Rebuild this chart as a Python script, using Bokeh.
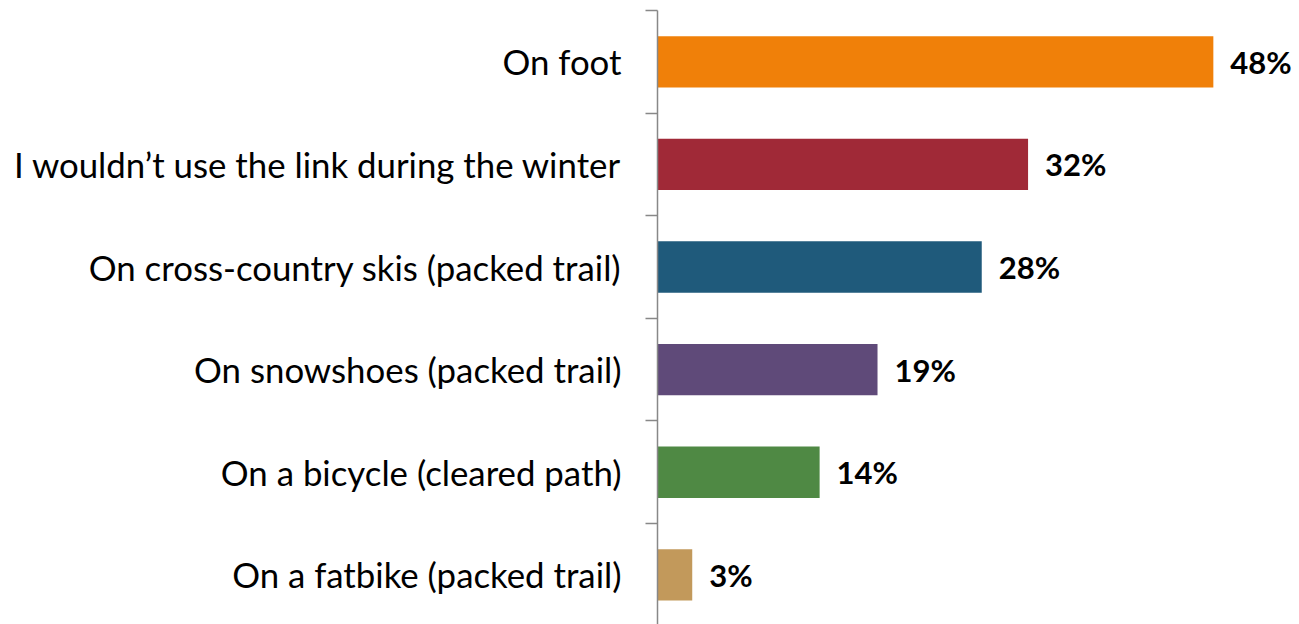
from bokeh.plotting import figure
from bokeh.models import Range1d, FixedTicker, ColumnDataSource
from bokeh.embed import file_html
from bokeh.resources import INLINE
from bokeh.core.properties import value

categories = ["On foot", "I wouldn\u2019t use the link during the winter",
              "On cross-country skis (packed trail)", "On snowshoes (packed trail)",
              "On a bicycle (cleared path)", "On a fatbike (packed trail)"]
values = [48, 32, 28, 19, 14, 3]
colors = ["#F08009", "#A02937", "#1F5A7B", "#5F4A79", "#4F8944", "#C2995B"]
labels = [f"{v}%" for v in values]

n = len(categories)
ypos = [n - 1 - i for i in range(n)]

src = ColumnDataSource(dict(y=ypos, v=values, c=colors, lab=labels))

p = figure(width=1299, height=624, output_backend="svg", toolbar_location=None,
           x_range=Range1d(0, 55.44), y_range=Range1d(-0.484, 5.5),
           min_border_left=657, min_border_right=0, min_border_top=10, min_border_bottom=0)
p.outline_line_color = None
p.grid.visible = False
p.xaxis.visible = False

p.hbar(y="y", right="v", left=0, height=0.5, fill_color="c", line_color=None, source=src)
p.text(x="v", y="y", text="lab", source=src, x_offset=17, text_baseline="middle",
       text_align="left", text_font=value("Lato"), text_font_style="bold",
       text_font_size="31px", text_color="#000000")

ax = p.yaxis[0]
ax.ticker = FixedTicker(ticks=ypos, minor_ticks=[k - 0.5 for k in range(n + 1)])
ax.major_label_overrides = {ypos[i]: categories[i] for i in range(n)}
ax.major_tick_out = 0
ax.major_tick_in = 0
ax.minor_tick_out = 12
ax.minor_tick_in = 0
ax.minor_tick_line_color = "#888888"
ax.minor_tick_line_width = 1.5
ax.axis_line_color = "#888888"
ax.axis_line_width = 1.5
ax.major_label_standoff = 24
ax.major_label_text_font = "Lato"
ax.major_label_text_font_size = "34.8px"
ax.major_label_text_color = "#000000"

open("out.html", "w").write(file_html(p, INLINE))
